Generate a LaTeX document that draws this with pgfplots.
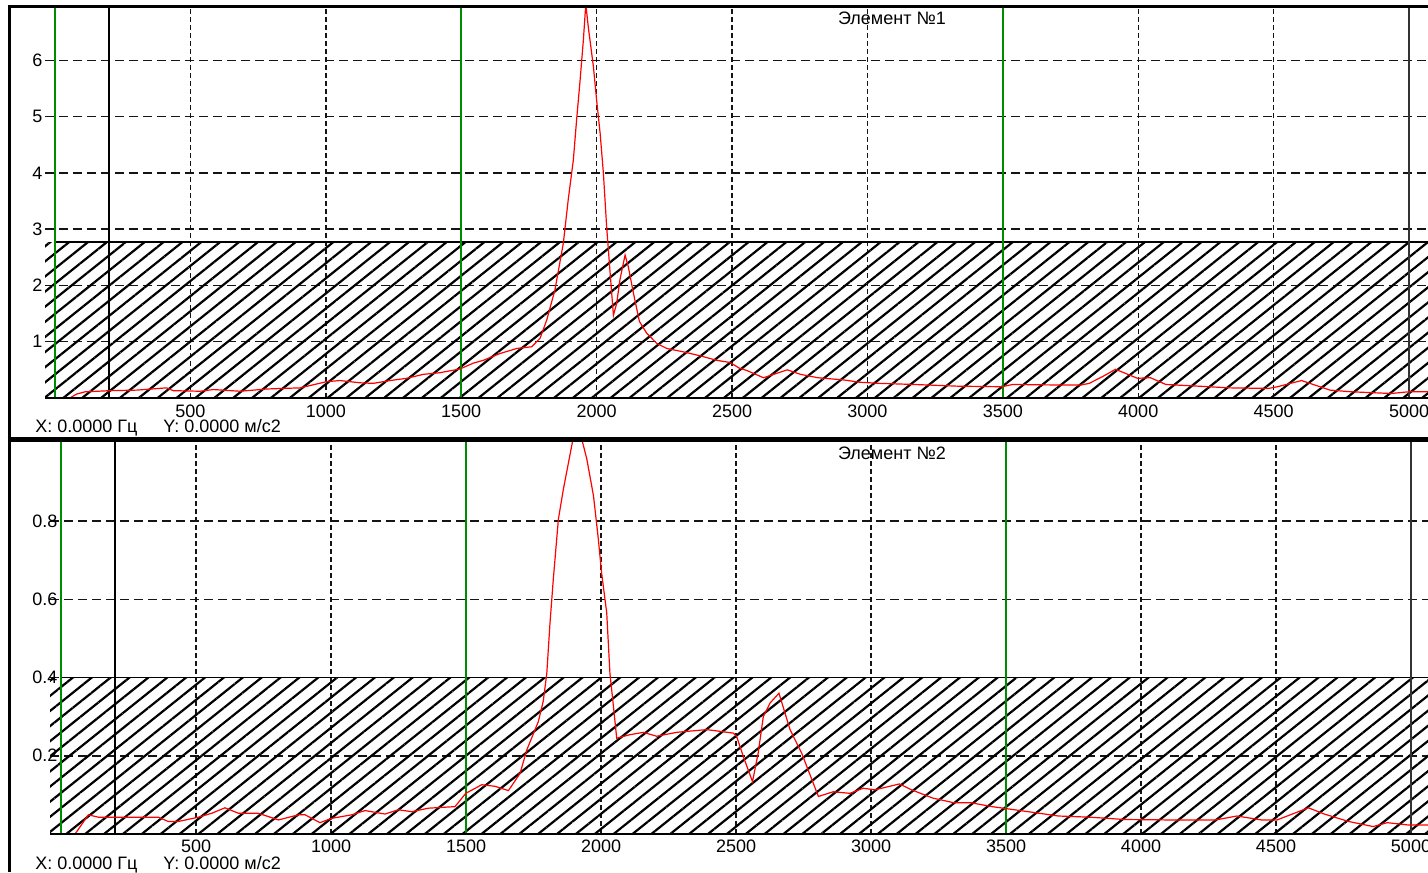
\documentclass[border=0pt]{standalone}
\usepackage{fontspec}
\setmainfont{Liberation Sans}
\usepackage{pgfplots}
\pgfplotsset{compat=1.18}
\usetikzlibrary{patterns.meta}
\definecolor{grn}{RGB}{0,140,0}
\definecolor{crv}{RGB}{255,0,0}
\definecolor{gridc}{RGB}{20,20,20}

\pgfplotstableread{
x y
25 0
55 0
80 0.07
111 0.11
203 0.13
302 0.14
412 0.18
437 0.13
535 0.12
585 0.15
683 0.12
782 0.16
905 0.18
1003 0.29
1052 0.31
1126 0.27
1175 0.26
1237 0.31
1299 0.35
1360 0.42
1422 0.45
1489 0.51
1502 0.53
1545 0.62
1582 0.67
1643 0.79
1705 0.88
1760 0.91
1791 1.06
1816 1.39
1846 1.92
1877 2.75
1895 3.52
1914 4.23
1926 4.94
1939 5.65
1951 6.36
1960 7.00
1969 6.60
1988 5.89
2000 5.29
2013 4.70
2025 3.99
2037 3.04
2050 2.21
2062 1.47
2074 1.68
2086 2.10
2105 2.54
2117 2.33
2136 1.86
2158 1.36
2185 1.15
2222 0.97
2259 0.88
2320 0.82
2382 0.75
2443 0.67
2493 0.63
2527 0.53
2554 0.49
2616 0.36
2704 0.50
2753 0.42
2817 0.36
2914 0.32
2971 0.28
3044 0.26
3173 0.24
3334 0.21
3496 0.20
3536 0.24
3722 0.23
3787 0.23
3819 0.26
3868 0.38
3916 0.51
3997 0.35
4045 0.36
4102 0.24
4223 0.21
4336 0.18
4481 0.17
4514 0.20
4603 0.31
4708 0.14
4788 0.11
4934 0.08
4998 0.11
5070 0.11
}\dataA

\pgfplotstableread{
x y
33 0
52 0
101 0.049
138 0.043
360 0.043
397 0.032
434 0.032
509 0.043
558 0.053
607 0.067
657 0.053
731 0.053
805 0.036
879 0.049
904 0.049
959 0.029
1002 0.040
1076 0.049
1126 0.060
1200 0.051
1249 0.062
1299 0.057
1360 0.066
1459 0.070
1499 0.104
1558 0.126
1607 0.122
1657 0.111
1700 0.155
1725 0.215
1768 0.288
1786 0.340
1799 0.410
1811 0.540
1823 0.650
1842 0.805
1860 0.880
1910 1.060
1947 0.960
1972 0.865
1990 0.754
2002 0.668
2021 0.566
2033 0.410
2046 0.326
2058 0.245
2107 0.254
2157 0.260
2206 0.250
2280 0.260
2391 0.267
2490 0.258
2502 0.250
2527 0.198
2561 0.134
2582 0.207
2601 0.300
2626 0.335
2659 0.360
2700 0.267
2743 0.207
2805 0.096
2860 0.108
2922 0.104
2971 0.117
3015 0.113
3105 0.128
3150 0.113
3228 0.092
3306 0.080
3370 0.080
3448 0.070
3552 0.060
3694 0.046
3811 0.043
3940 0.037
4096 0.036
4277 0.036
4355 0.046
4446 0.036
4504 0.036
4620 0.067
4679 0.051
4769 0.032
4860 0.019
4912 0.029
4990 0.023
5065 0.023
}\dataB

\pgfplotsset{
  panel/.style={
    scale only axis,
    anchor=south west,
    axis line style={draw=none},
    tick style={draw=none},
    clip=true,
    xtick={500,1000,1500,2000,2500,3000,3500,4000,4500,5000},
    xticklabels={500,1000,1500,2000,2500,3000,3500,4000,4500,5000},
    xticklabel style={anchor=north, inner sep=0pt, yshift=-3.5pt},
    yticklabel style={anchor=west, inner sep=0pt},
    ticklabel style={font=\fontsize{9}{10}\selectfont},
    xmajorgrids, ymajorgrids,
    x grid style={gridc, line width=0.75pt, dash pattern=on 2.5pt off 1.5pt},
    y grid style={gridc, line width=0.75pt, dash pattern=on 4.5pt off 2.5pt},
  },
  hatch/.style={draw=none, pattern={Lines[angle=38.7, distance=5.9pt, line width=1.1pt]}},
}

\begin{document}
\begin{tikzpicture}
\path[use as bounding box] (0,0) rectangle (714pt,436pt);

% ---- top panel ----
\begin{axis}[panel, at={(22.5pt,237pt)}, width=691.5pt, height=195pt,
  xmin=-37, xmax=5070, ymin=0, ymax=6.93,
  ytick={1,2,3,4,5,6}, yticklabels={1,2,3,4,5,6},
  yticklabel style={xshift=-6.5pt}]
\addplot[hatch] coordinates {(-60,2.77) (5100,2.77)} \closedcycle;
\addplot[black, line width=0.8pt] coordinates {(0,2.77) (5100,2.77)};
\addplot[black, line width=0.7pt] coordinates {(200,0) (200,8)};
\addplot[black!80, line width=0.7pt] coordinates {(5000,0) (5000,8)};
\addplot[grn, line width=0.8pt] coordinates {(0,0) (0,8)};
\addplot[grn, line width=0.8pt] coordinates {(1500,0) (1500,8)};
\addplot[grn, line width=0.8pt] coordinates {(3500,0) (3500,8)};
\addplot[crv, line width=0.6pt] table[x=x, y=y] {\dataA};
\end{axis}

% ---- bottom panel ----
\begin{axis}[panel, at={(25pt,19pt)}, width=689pt, height=195.5pt,
  xmin=-41, xmax=5063, ymin=0, ymax=1.0,
  ytick={0.2,0.4,0.6,0.8}, yticklabels={0.2,0.4,0.6,0.8},
  xticklabel style={yshift=0.5pt},
  yticklabel style={xshift=-9pt}]
\addplot[hatch] coordinates {(-60,0.4) (5100,0.4)} \closedcycle;
\addplot[black, line width=0.8pt] coordinates {(0,0.4) (5100,0.4)};
\addplot[black, line width=0.7pt] coordinates {(200,0) (200,1.2)};
\addplot[black!80, line width=0.7pt] coordinates {(5000,0) (5000,1.2)};
\addplot[grn, line width=0.8pt] coordinates {(0,0) (0,1.2)};
\addplot[grn, line width=0.8pt] coordinates {(1500,0) (1500,1.2)};
\addplot[grn, line width=0.8pt] coordinates {(3500,0) (3500,1.2)};
\addplot[crv, line width=0.6pt] table[x=x, y=y] {\dataB};
\end{axis}

% baselines
\draw[black, line width=1pt] (22.5pt,237pt) -- (714pt,237pt);
\draw[black, line width=1pt] (25pt,19pt) -- (714pt,19pt);

% frame
\draw[black, line width=1.5pt] (4.5pt,0pt) -- (4.5pt,433.5pt);
\draw[black, line width=1.5pt] (3.75pt,432.75pt) -- (714pt,432.75pt);
\draw[black, line width=2.5pt] (3.75pt,216pt) -- (714pt,216pt);

% texts
\begin{scope}[every node/.style={font=\fontsize{9}{10}\selectfont, inner sep=0pt}]
\node[anchor=base] at (446pt,423.5pt) {Элемент №1};
\node[anchor=base] at (446pt,206pt) {Элемент №2};
\node[anchor=base west] at (17.5pt,219.5pt) {X: 0.0000 Гц};
\node[anchor=base west] at (81.5pt,219.5pt) {Y: 0.0000 м/с2};
\node[anchor=base west] at (17.5pt,1.5pt) {X: 0.0000 Гц};
\node[anchor=base west] at (81.5pt,1.5pt) {Y: 0.0000 м/с2};
\end{scope}
\end{tikzpicture}
\end{document}
